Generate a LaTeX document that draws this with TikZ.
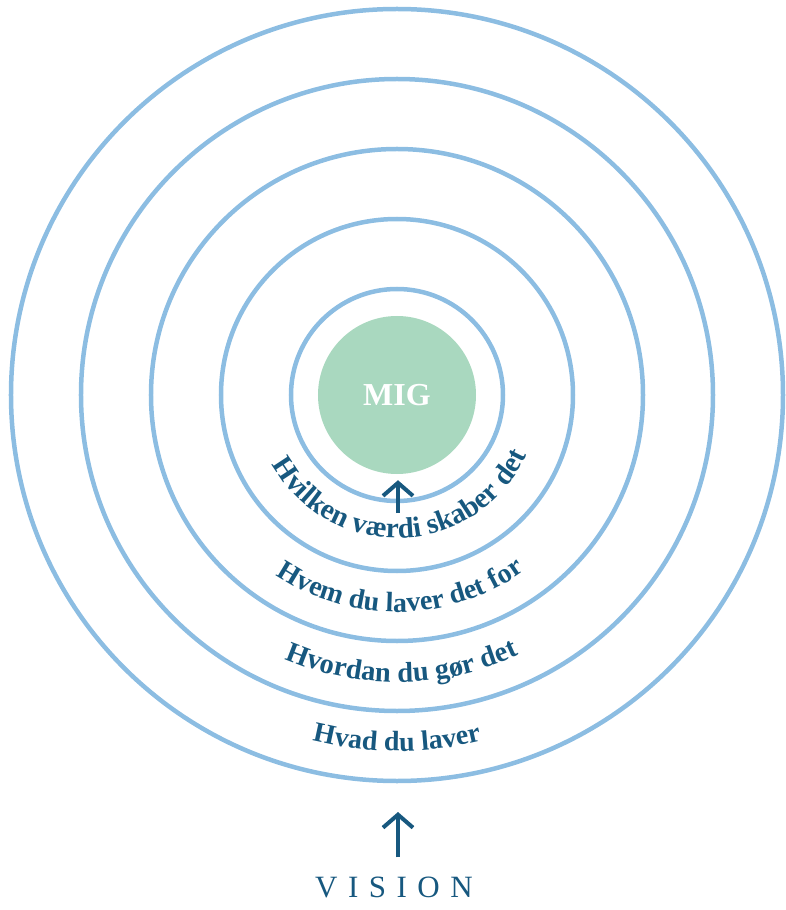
\documentclass[tikz,border=0pt]{standalone}
\usepackage{fontspec}
\setmainfont{Liberation Serif}
\usepackage{tikz}
\usetikzlibrary{arrows.meta,decorations.text,positioning}

\definecolor{ringblue}{HTML}{8CBDE2}
\definecolor{miggreen}{HTML}{A9D8BF}
\definecolor{darkblue}{HTML}{17587F}

\begin{document}
\begin{tikzpicture}[
                x=1pt,y=1pt,
                ring/.style={circle,draw=ringblue,line width=4.5pt,inner sep=0pt},
                uparrow/.style={draw=darkblue,line width=4pt,-{Straight Barb[length=13pt,width=30pt]}},
                ringtext/.style 2 args={decorate,decoration={text along path,text align=center,text color=darkblue,
                    text={|\fontsize{#1}{32}\selectfont\bfseries|#2}}}
            ]
                \useasboundingbox (-397,-515) rectangle (389,395);
                % centre
                \node[circle,fill=miggreen,minimum size=158pt,inner sep=0pt,text=white,
                      font=\fontsize{32}{36}\selectfont\bfseries] (mig) at (0,0) {MIG};
                \foreach \d [count=\i] in {212,352,492,632,772}
                    \node[ring,minimum size=\d*1pt] (ring\i) at (0,0) {};
                % texts between the rings
                \path[ringtext={29}{Hvilken værdi skaber det}] (200:143) arc[start angle=200,end angle=344,radius=143];
                \path[ringtext={28}{Hvem du laver det for}]    (200:217) arc[start angle=200,end angle=342,radius=217];
                \path[ringtext={28.5}{Hvordan du gør det}]     (200:287) arc[start angle=200,end angle=342,radius=287];
                \path[ringtext={28}{Hvad du laver}]            (200:356) arc[start angle=200,end angle=340,radius=356];
                % arrows
                \coordinate (migfoot) at (1,-118);
                \draw[uparrow,shorten >=6pt] (migfoot) -- (migfoot |- mig.south);
                \node[inner sep=0pt,text=darkblue,font=\fontsize{31}{36}\selectfont] (vision) at (-3,-492)
                    {V\kern10.5pt I\kern10.5pt S\kern10.5pt I\kern10.5pt O\kern10.5pt N};
                \coordinate (visiontip) at (1,-417);
                \draw[uparrow,shorten <=19pt] (vision.north -| visiontip) -- (visiontip);
            \end{tikzpicture}
\end{document}
